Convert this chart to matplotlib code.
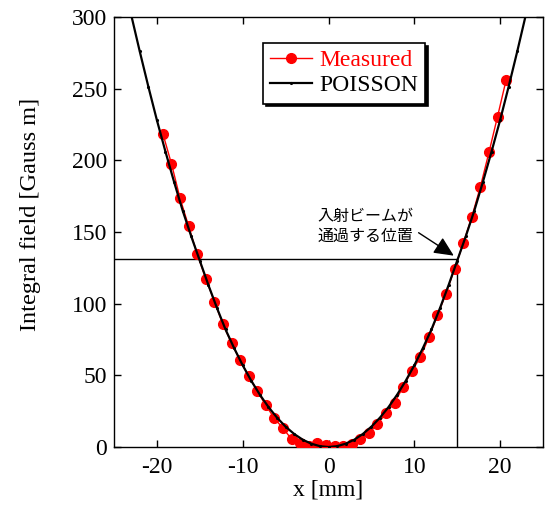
import matplotlib
matplotlib.use("Agg")
import matplotlib.pyplot as plt

plt.rcParams['font.family'] = ['Liberation Serif', 'DejaVu Serif']
plt.rcParams['mathtext.fontset'] = 'stix'

# Measured data
meas_x = [-19.3, -18.3, -17.3, -16.3, -15.3, -14.3, -13.3, -12.3, -11.3, -10.3,
          -9.3, -8.3, -7.3, -6.3, -5.3, -4.3, -3.3, -2.3, -1.3, -0.3,
          0.7, 1.7, 2.7, 3.7, 4.7, 5.7, 6.7, 7.7, 8.7, 9.7,
          10.7, 11.7, 12.7, 13.7, 14.7, 15.7, 16.7, 17.7, 18.7, 19.7, 20.7]
meas_y = [218.5, 197.5, 173.5, 154.0, 134.5, 117.5, 101.5, 85.5, 72.5, 60.5,
          49.5, 39.0, 29.0, 20.0, 13.0, 5.5, 2.5, 1.0, 3.0, 1.5,
          1.0, 1.0, 2.0, 5.5, 9.5, 16.0, 23.5, 31.0, 42.0, 53.0,
          62.5, 76.5, 92.0, 107.0, 124.5, 142.0, 160.5, 181.5, 205.5, 230.5, 256.0]

# POISSON calculation
pois_x = [-24, -23, -22, -21, -20, -19, -18, -17, -16, -15, -14, -13, -12, -11, -10,
          -9, -8, -7, -6, -5, -4, -3, -2, -1, 0, 1, 2, 3, 4, 5, 6, 7, 8, 9, 10,
          11, 12, 13, 14, 15, 16, 17, 18, 19, 20, 21, 22, 23, 24]
pois_y = [328.0, 301.5, 276.0, 251.5, 228.0, 206.0, 185.0, 165.0, 147.0, 130.0, 113.0, 97.0, 82.0, 69.0, 57.0,
          46.2, 36.5, 27.9, 20.5, 14.2, 9.1, 5.1, 2.3, 0.6, 0.0, 0.6, 2.3, 5.1, 9.1, 14.2, 20.5, 27.9, 36.5, 46.2, 57.0,
          69.0, 82.0, 97.0, 113.0, 130.0, 147.0, 165.0, 185.0, 206.0, 228.0, 251.5, 276.0, 301.5, 328.0]

x_ticks = [-20, -10, 0, 10, 20]
y_ticks = [0, 50, 100, 150, 200, 250, 300]
beam_x = 15
beam_y = 131

fig = plt.figure(figsize=(5.46, 5.07), dpi=100)
ax = fig.add_axes([0.2088, 0.1183, 0.7857, 0.8482])

ax.plot(meas_x, meas_y, color='red', lw=1.0, marker='o', ms=7,
        label='Measured', zorder=3)
ax.plot(pois_x, pois_y, color='black', lw=1.6, marker='.', ms=2.5,
        label='POISSON', zorder=4)

# beam position guide lines
ax.plot([-25, beam_x], [beam_y, beam_y], color='black', lw=1.0, zorder=2)
ax.plot([beam_x, beam_x], [0, beam_y], color='black', lw=1.0, zorder=2)

ax.text(-1.3, 154, '入射ビームが\n通過する位置', ha='left', va='center',
        fontsize=11.5, family=['Noto Sans CJK JP', 'DejaVu Sans'],
        linespacing=1.25)
ax.annotate('', xy=(14.6, 133.5), xytext=(10.5, 149.5),
            arrowprops=dict(arrowstyle='-|>,head_length=0.6,head_width=0.28',
                            color='black', lw=1.0, mutation_scale=20,
                            shrinkA=0, shrinkB=0))

ax.set_xlim(-25, 25)
ax.set_ylim(0, 300)
ax.set_xticks(x_ticks)
ax.set_yticks(y_ticks)
ax.set_xticklabels([str(v) for v in x_ticks])
ax.tick_params(direction='in', length=5, width=1, top=True, right=True,
               labelsize=17)
ax.tick_params(axis='x', pad=7)
ax.tick_params(axis='y', pad=5)
for s in ax.spines.values():
    s.set_linewidth(1.0)

ax.set_xlabel('x [mm]', fontsize=17, labelpad=1)
ax.set_ylabel('Integral field [Gauss m]', fontsize=17.5)
ax.yaxis.set_label_coords(-0.17, 0.54)

leg = ax.legend(loc='upper left', bbox_to_anchor=(0.347, 0.94), borderaxespad=0,
                fontsize=17, fancybox=False, framealpha=1, edgecolor='black',
                numpoints=1, handlelength=1.8, labelcolor='linecolor',
                shadow={'color': 'black', 'alpha': 1}, borderpad=0.3,
                labelspacing=0.15, handletextpad=0.3)
leg.get_frame().set_linewidth(1.2)

fig.savefig('out.png', dpi=100)
